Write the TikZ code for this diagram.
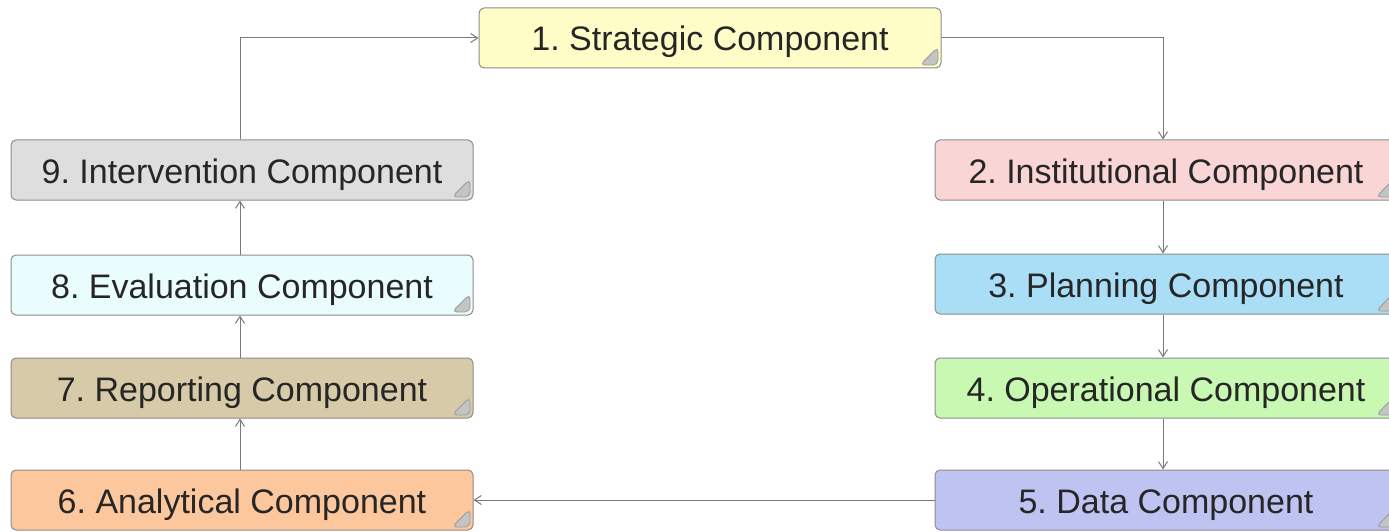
\documentclass[tikz,border=0pt]{standalone}
\usepackage{fontspec}
\setmainfont{Liberation Sans}
\usetikzlibrary{arrows.meta}
\frenchspacing

\definecolor{edgegray}{HTML}{8C8C8C}
\definecolor{linegray}{HTML}{7A7A7A}
\definecolor{fold}{HTML}{C4C4C4}
\definecolor{foldedge}{HTML}{9A9A9A}
\definecolor{cStrategic}{HTML}{FEFDC8}
\definecolor{cInstitutional}{HTML}{F9D6D5}
\definecolor{cPlanning}{HTML}{A9DEF6}
\definecolor{cOperational}{HTML}{C8F8B2}
\definecolor{cData}{HTML}{BFC3F2}
\definecolor{cAnalytical}{HTML}{FDC79D}
\definecolor{cReporting}{HTML}{D7CAA8}
\definecolor{cEvaluation}{HTML}{E9FCFE}
\definecolor{cIntervention}{HTML}{DEDEDE}

\tikzset{
  compbox/.style={
    draw=edgegray, line width=1pt, rounded corners=5pt,
    minimum width=462pt, minimum height=60pt, inner sep=0pt,
    text height=28pt, text depth=2pt,
    font=\fontsize{34}{40}\selectfont, text=black!85,
    path picture={
      \filldraw[fill=fold, draw=foldedge, line width=0.8pt]
        ([xshift=-3pt,yshift=3pt]path picture bounding box.south east)
        -- ++(0pt,18pt) -- ++(-18pt,-18pt) -- cycle;
    }
  },
  conn/.style={draw=linegray, line width=1pt,
    -{Straight Barb[length=7pt,width=9pt,line width=1pt]}}
}

\begin{document}
\begin{tikzpicture}[x=1pt,y=-1pt]
  \useasboundingbox (0,0) rectangle (1389,532);
  \clip (0,0) rectangle (1389,532);
  \fill[white] (0,0) rectangle (1389,532);

  % top
  \node[compbox, fill=cStrategic]     (s1) at (710,38)  {1. Strategic Component};
  % right column, going down
  \node[compbox, fill=cInstitutional] (s2) at (1166,170) {2. Institutional Component};
  \node[compbox, fill=cPlanning]      (s3) at (1166,284) {3. Planning Component};
  \node[compbox, fill=cOperational]   (s4) at (1166,388) {4. Operational Component};
  \node[compbox, fill=cData]          (s5) at (1166,500) {5. Data Component};
  % left column, going up
  \node[compbox, fill=cAnalytical]    (s6) at (242,500) {6. Analytical Component};
  \node[compbox, fill=cReporting]     (s7) at (242,388) {7. Reporting Component};
  \node[compbox, fill=cEvaluation]    (s8) at (242,285) {8. Evaluation Component};
  \node[compbox, fill=cIntervention]  (s9) at (242,170) {9. Intervention Component};

  % cycle of connectors
  \draw[conn] (s1.east) -| ([xshift=-3pt]s2.north);
  \draw[conn] ([xshift=-3pt]s2.south) -- ([xshift=-3pt]s3.north);
  \draw[conn] ([xshift=-3pt]s3.south) -- ([xshift=-3pt]s4.north);
  \draw[conn] ([xshift=-3pt]s4.south) -- ([xshift=-3pt]s5.north);
  \draw[conn] (s5.west) -- (s6.east);
  \draw[conn] ([xshift=-2pt]s6.north) -- ([xshift=-2pt]s7.south);
  \draw[conn] ([xshift=-2pt]s7.north) -- ([xshift=-2pt]s8.south);
  \draw[conn] ([xshift=-2pt]s8.north) -- ([xshift=-2pt]s9.south);
  \draw[conn] ([xshift=-2pt]s9.north) |- (s1.west);
\end{tikzpicture}
\end{document}
